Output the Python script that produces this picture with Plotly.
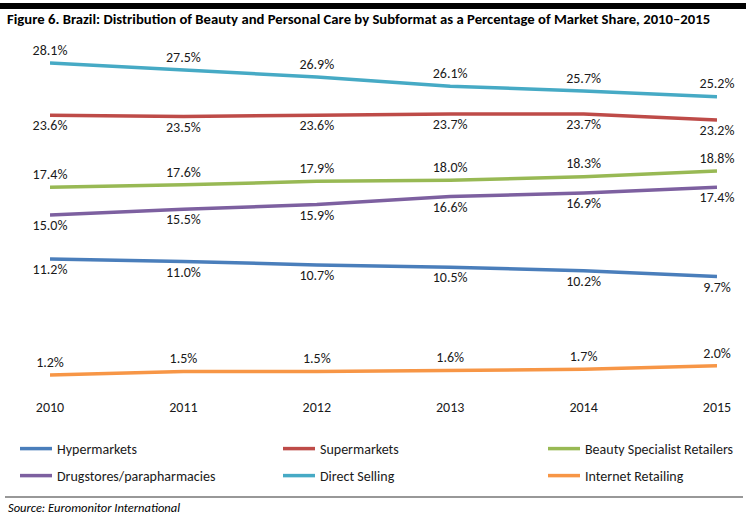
import plotly.graph_objects as go

years = [2010, 2011, 2012, 2013, 2014, 2015]
year_labels = ["2010", "2011", "2012", "2013", "2014", "2015"]

hypermarkets = [11.2, 11.0, 10.7, 10.5, 10.2, 9.7]
supermarkets = [23.6, 23.5, 23.6, 23.7, 23.7, 23.2]
beauty_specialist = [17.4, 17.6, 17.9, 18.0, 18.3, 18.8]
drugstores = [15.0, 15.5, 15.9, 16.6, 16.9, 17.4]
direct_selling = [28.1, 27.5, 26.9, 26.1, 25.7, 25.2]
internet_retailing = [1.2, 1.5, 1.5, 1.6, 1.7, 2.0]

series = [
    ("Hypermarkets", hypermarkets, "#4a7ebb", "bottom center"),
    ("Supermarkets", supermarkets, "#be4b48", "bottom center"),
    ("Beauty Specialist Retailers", beauty_specialist, "#98b954", "top center"),
    ("Drugstores/parapharmacies", drugstores, "#7d60a0", "bottom center"),
    ("Direct Selling", direct_selling, "#46aac5", "top center"),
    ("Internet Retailing", internet_retailing, "#f79646", "top center"),
]

FONT = "Carlito, Calibri, Lato, Liberation Sans, sans-serif"
W, H = 750, 518

# legend slot positions (pixels): 3 columns x 2 rows
legend_x = [15, 278, 543]
legend_y = [449, 476]

fig = go.Figure()
legend_layout = {}
for i, (name, vals, color, pos) in enumerate(series):
    key = "legend" if i == 0 else f"legend{i + 1}"
    fig.add_trace(go.Scatter(
        x=years, y=vals, name=name, mode="lines+markers+text",
        line=dict(color=color, width=3.5),
        marker=dict(size=6, color="rgba(0,0,0,0)"),
        text=[f"{v:.1f}%" for v in vals],
        textposition=pos,
        textfont=dict(family=FONT, size=14, color="#1a1a1a"),
        cliponaxis=False,
        legend=key,
    ))
    legend_layout[key] = dict(
        x=legend_x[i % 3] / W, y=1 - legend_y[i // 3] / H,
        orientation="h", xanchor="left", yanchor="middle",
        font=dict(family=FONT, size=14, color="#1a1a1a"),
        itemwidth=32, bgcolor="rgba(0,0,0,0)",
    )

fig.update_layout(
    width=W, height=H,
    margin=dict(l=0, r=0, t=0, b=0, autoexpand=False),
    paper_bgcolor="white", plot_bgcolor="white",
    font=dict(family=FONT, size=14, color="#1a1a1a"),
    xaxis=dict(
        domain=[50 / W, 717 / W], range=[2010, 2015],
        tickvals=years, ticktext=year_labels,
        showgrid=False, zeroline=False, showline=False,
        ticks="", ticklabelstandoff=8,
        tickfont=dict(family=FONT, size=14, color="#1a1a1a"),
    ),
    yaxis=dict(
        domain=[1 - 389 / H, 1 - 41 / H], range=[0, 30],
        visible=False,
    ),
    showlegend=True,
    shapes=[
        dict(type="rect", xref="paper", yref="paper", x0=0, x1=746 / W,
             y0=1 - 9 / H, y1=1 - 3 / H, fillcolor="black", line=dict(width=0)),
        dict(type="line", xref="paper", yref="paper", x0=5 / W, x1=743 / W,
             y0=1 - 497 / H, y1=1 - 497 / H, line=dict(color="#333333", width=1.2)),
    ],
    annotations=[
        dict(text="<b>Figure 6. Brazil: Distribution of Beauty and Personal Care by Subformat as a Percentage of Market Share, 2010–2015</b>",
             xref="paper", yref="paper", x=5 / W, y=1 - 19 / H, xanchor="left", yanchor="middle",
             showarrow=False, font=dict(family=FONT, size=14.7, color="black")),
        dict(text="<i>Source: Euromonitor International</i>",
             xref="paper", yref="paper", x=6 / W, y=1 - 507 / H, xanchor="left", yanchor="middle",
             showarrow=False, font=dict(family=FONT, size=12.5, color="black")),
    ],
    **legend_layout,
)

fig.write_html(
    "out.html",
    config={"displayModeBar": False},
    post_script="document.body.style.margin='0';document.body.style.overflow='hidden';",
)
